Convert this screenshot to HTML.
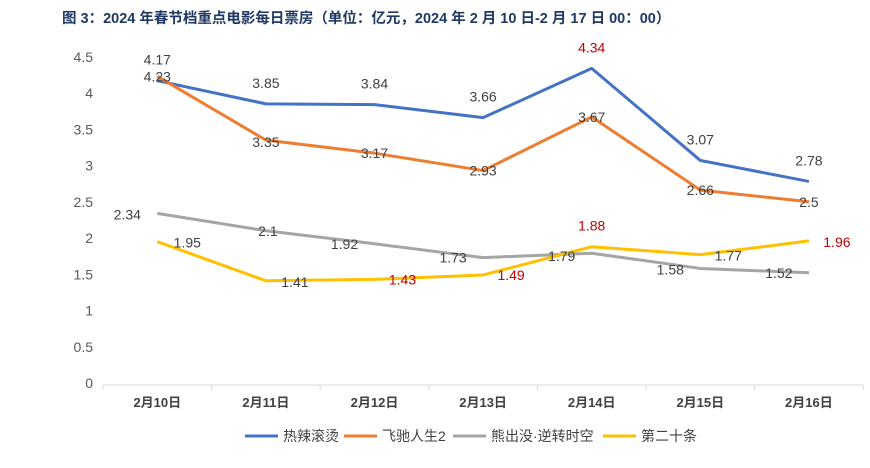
<!DOCTYPE html>
<html><head><meta charset="utf-8"><style>
body{margin:0;background:#fff;width:870px;height:463px;overflow:hidden;font-family:"Liberation Sans","Noto Sans CJK SC",sans-serif}
</style></head><body>
<svg id="c" width="870" height="463" xmlns="http://www.w3.org/2000/svg">
<text x="62" y="23" font-size="14.5" font-weight="bold" fill="#1f3864" font-family="Liberation Sans,Noto Sans CJK SC,sans-serif">图 3：2024 年春节档重点电影每日票房（单位：亿元，2024 年 2 月 10 日-2 月 17 日 00：00）</text>
</svg>
<script>
const categories=["2月10日","2月11日","2月12日","2月13日","2月14日","2月15日","2月16日"];
const seriesNames=["热辣滚烫","飞驰人生2","熊出没·逆转时空","第二十条"];
const s1=[4.17,3.85,3.84,3.66,4.34,3.07,2.78];
const s2=[4.23,3.35,3.17,2.93,3.67,2.66,2.5];
const s3=[2.34,2.1,1.92,1.73,1.79,1.58,1.52];
const s4=[1.95,1.41,1.43,1.49,1.88,1.77,1.96];
const yTicks=[0,0.5,1,1.5,2,2.5,3,3.5,4,4.5];
const NS="http://www.w3.org/2000/svg",svg=document.getElementById("c");
const x0=103,step=108.6,yZero=383,unit=72.5;
const X=i=>x0+step*(i+0.5), Y=v=>yZero-v*unit;
function mk(t,a){const e=document.createElementNS(NS,t);for(const k in a)e.setAttribute(k,a[k]);svg.appendChild(e);return e;}
yTicks.forEach(v=>{const t=mk("text",{x:93,y:Y(v)+5,"text-anchor":"end","font-size":14,fill:"#595959"});t.textContent=String(v);

});
const ax=mk("line",{x1:x0,x2:x0+step*7,y1:385,y2:385,stroke:"#d9d9d9","stroke-width":1});


for(let i=0;i<=7;i++){const tk=mk("line",{x1:x0+step*i,x2:x0+step*i,y1:385,y2:390,stroke:"#d9d9d9"});

}
categories.forEach((c,i)=>{const t=mk("text",{x:X(i),y:407,"text-anchor":"middle","font-size":13,fill:"#404040","font-weight":"bold"});t.textContent=c;

});
const colors=["#4472c4","#ed7d31","#a5a5a5","#ffc000"];
const all=[s1,s2,s3,s4];
const offs=[
[[0,-21],[0,-21],[0,-21],[0,-21],[0,-21],[0,-21],[0,-21]],
[[0,0],[0,2],[0,0],[0,0],[0,0],[0,0],[0,0]],
[[-30,1],[2,0],[-30,0],[-30,0],[-30,3],[-30,1],[-30,0]],
[[30,1],[29,1],[28,0],[28,0],[0,-21],[28,1],[28,1]]];
const red=[[0,0,0,0,1,0,0],[0,0,0,0,0,0,0],[0,0,0,0,0,0,0],[0,0,1,1,1,0,1]];
all.forEach((s,k)=>{
 const p=mk("polyline",{points:s.map((v,i)=>X(i)+","+Y(v)).join(" "),fill:"none",stroke:colors[k],"stroke-width":3,"stroke-linejoin":"round"});
 
 
});
all.forEach((s,k)=>{s.forEach((v,i)=>{
 const t=mk("text",{x:X(i)+offs[k][i][0],y:Y(v)+offs[k][i][1]+5,"text-anchor":"middle","font-size":14,fill:red[k][i]?"#c00000":"#404040"});
 t.textContent=String(v);
 
 
});});
const lx=[245,344,453,603];
seriesNames.forEach((n,k)=>{
 const l=mk("line",{x1:lx[k],x2:lx[k]+33,y1:436,y2:436,stroke:colors[k],"stroke-width":3});
 
 
 const t=mk("text",{x:lx[k]+38,y:441,"font-size":14,fill:"#404040"});t.textContent=n;
 
 
});
</script>
</body></html>
